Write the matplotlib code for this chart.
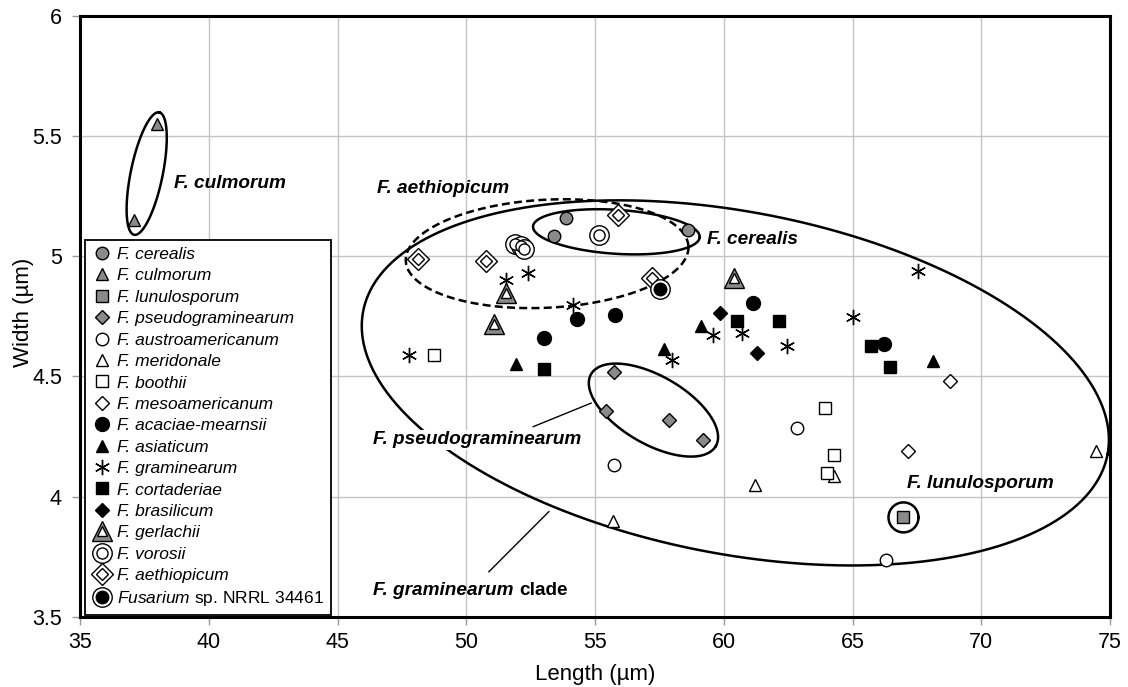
import numpy as np
import matplotlib
matplotlib.use("Agg")
import matplotlib.pyplot as plt
from matplotlib.lines import Line2D

plt.rcParams['font.family'] = ['Liberation Sans', 'DejaVu Sans']
plt.rcParams['mathtext.fontset'] = 'custom'
plt.rcParams['mathtext.it'] = 'Liberation Sans:italic'
plt.rcParams['mathtext.rm'] = 'Liberation Sans'
plt.rcParams['mathtext.bf'] = 'Liberation Sans:bold'

# ---------------- data (length, width in µm) ----------------
cerealis_x = [53.89, 53.40, 58.60]
cerealis_y = [5.16, 5.085, 5.11]
culmorum_x = [38.0, 37.1]
culmorum_y = [5.55, 5.15]
lunulosporum_x = [66.98]
lunulosporum_y = [3.914]
pseudogram_x = [55.73, 55.44, 57.86, 59.18]
pseudogram_y = [4.52, 4.355, 4.32, 4.235]
austroam_x = [55.75, 62.84, 66.31]
austroam_y = [4.133, 4.286, 3.7375]
meridonale_x = [55.70, 61.2, 64.29, 74.46]
meridonale_y = [3.90, 4.05, 4.085, 4.19]
boothii_x = [48.74, 63.92, 64.27, 64.0]
boothii_y = [4.59, 4.37, 4.172, 4.10]
mesoam_x = [68.79, 67.14]
mesoam_y = [4.48, 4.19]
acaciae_x = [54.31, 55.79, 53.01, 61.12, 66.23]
acaciae_y = [4.74, 4.754, 4.66, 4.807, 4.636]
asiaticum_x = [51.95, 57.69, 59.12, 68.12]
asiaticum_y = [4.55, 4.6125, 4.71, 4.564]
graminearum_x = [47.77, 51.56, 52.41, 54.15, 57.99, 59.58, 60.70, 62.45, 65.02, 67.54]
graminearum_y = [4.5875, 4.90, 4.93, 4.796, 4.567, 4.67, 4.68, 4.626, 4.745, 4.94]
cortaderiae_x = [53.01, 60.51, 62.13, 65.71, 66.44]
cortaderiae_y = [4.532, 4.73, 4.73, 4.626, 4.54]
brasilicum_x = [59.84, 61.29]
brasilicum_y = [4.765, 4.596]
gerlachii_x = [51.56, 51.07, 60.39]
gerlachii_y = [4.846, 4.717, 4.91]
vorosii_x = [51.91, 52.11, 52.26, 55.15]
vorosii_y = [5.05, 5.04, 5.03, 5.088]
aethiopicum_x = [48.12, 50.75, 55.88, 57.22]
aethiopicum_y = [4.99, 4.978, 5.172, 4.908]
nrrl_x = [57.54]
nrrl_y = [4.863]

x_ticks = [35, 40, 45, 50, 55, 60, 65, 70, 75]
y_ticks = [3.5, 4, 4.5, 5, 5.5, 6]
y_ticklabels = ['3.5', '4', '4.5', '5', '5.5', '6']

GRAY = '#8a8a8a'

fig = plt.figure(figsize=(11.28, 6.87), dpi=100)
ax = fig.add_axes([80/1128, 1-617/687, 1030/1128, (617-15.5)/687])
ax.set_xlim(35, 75)
ax.set_ylim(3.5, 6)
ax.set_xticks(x_ticks)
ax.set_yticks(y_ticks)
ax.set_yticklabels(y_ticklabels)
ax.grid(True, color='#c4c4c4', lw=1.0, zorder=0)
ax.set_axisbelow(True)
for s in ax.spines.values():
    s.set_linewidth(2.2)
    s.set_color('black')
ax.tick_params(direction='out', length=6, width=1, color='#999999', labelsize=15.5)
ax.tick_params(axis='x', pad=4.5)
ax.tick_params(axis='y', pad=7)
ax.set_xlabel('Length (µm)', fontsize=16, labelpad=8)
ax.set_ylabel('Width (µm)', fontsize=16, labelpad=-1.5)
ax.yaxis.label.set_y(0.507)

kw = dict(ls='none', mec='black', mew=1.0, zorder=5)
h = {}
h['cer'] = ax.plot(cerealis_x, cerealis_y, 'o', ms=9, mfc=GRAY, **kw)[0]
h['cul'] = ax.plot(culmorum_x, culmorum_y, '^', ms=9, mfc=GRAY, **kw)[0]
h['lun'] = ax.plot(lunulosporum_x, lunulosporum_y, 's', ms=8, mfc=GRAY, **kw)[0]
h['pse'] = ax.plot(pseudogram_x, pseudogram_y, 'D', ms=7, mfc=GRAY, **kw)[0]
h['aus'] = ax.plot(austroam_x, austroam_y, 'o', ms=9, mfc='white', **kw)[0]
h['mer'] = ax.plot(meridonale_x, meridonale_y, '^', ms=9, mfc='white', **kw)[0]
h['boo'] = ax.plot(boothii_x, boothii_y, 's', ms=8, mfc='white', **kw)[0]
h['mes'] = ax.plot(mesoam_x, mesoam_y, 'D', ms=7, mfc='white', **kw)[0]
h['aca'] = ax.plot(acaciae_x, acaciae_y, 'o', ms=10, mfc='black', **kw)[0]
h['asi'] = ax.plot(asiaticum_x, asiaticum_y, '^', ms=9, mfc='black', **kw)[0]
h['gra'] = ax.plot(graminearum_x, graminearum_y, marker=(6, 2, 0), ms=11,
                   mew=1.0, ls='none', color='black', zorder=5)[0]
h['cor'] = ax.plot(cortaderiae_x, cortaderiae_y, 's', ms=8.5, mfc='black', **kw)[0]
h['bra'] = ax.plot(brasilicum_x, brasilicum_y, 'D', ms=7.5, mfc='black', **kw)[0]
g1 = ax.plot(gerlachii_x, gerlachii_y, '^', ms=15, mfc=GRAY, **kw)[0]
g2 = ax.plot(gerlachii_x, gerlachii_y, '^', ms=7.5, mfc='white', ls='none',
             mec='black', mew=1.0, zorder=6)[0]
v1 = ax.plot(vorosii_x, vorosii_y, 'o', ms=14, mfc='white', **kw)[0]
v2 = ax.plot(vorosii_x, vorosii_y, 'o', ms=8, mfc='white', ls='none',
             mec='black', mew=1.0, zorder=6)[0]
a1 = ax.plot(aethiopicum_x, aethiopicum_y, 'D', ms=11, mfc='white', **kw)[0]
a2 = ax.plot(aethiopicum_x, aethiopicum_y, 'D', ms=6, mfc='white', ls='none',
             mec='black', mew=1.0, zorder=6)[0]
n1 = ax.plot(nrrl_x, nrrl_y, 'o', ms=14, mfc='white', **kw)[0]
n2 = ax.plot(nrrl_x, nrrl_y, 'o', ms=9, mfc='black', ls='none',
             mec='black', mew=1.0, zorder=6)[0]

# ---------------- group ellipses (center in data, semi-axes in px, angle deg) ----
ellipses = [
    # cx, cy, a_px, b_px, angle, linestyle
    (60.45, 4.473, 379, 171, -10.9, '-'),   # F. graminearum clade
    (53.14, 5.01, 141.5, 54, 3.0, '--'),    # F. aethiopicum
    (55.83, 5.101, 83.5, 22, -3.7, '-'),    # F. cerealis
    (57.27, 4.36, 72, 34, -30.0, '-'),      # F. pseudograminearum
    (37.59, 5.343, 62.5, 16, 78.4, '-'),    # F. culmorum
    (66.98, 3.914, 15, 15, 0.0, '-'),       # F. lunulosporum
]

def draw_ellipse(cx, cy, a, b, ang, ls):
    c = ax.transData.transform((cx, cy))
    t = np.linspace(0, 2*np.pi, 600)
    th = np.radians(ang)
    dx = a*np.cos(t)*np.cos(th) - b*np.sin(t)*np.sin(th)
    dy = a*np.cos(t)*np.sin(th) + b*np.sin(t)*np.cos(th)
    pts = ax.transData.inverted().transform(np.column_stack([c[0]+dx, c[1]+dy]))
    line, = ax.plot(pts[:, 0], pts[:, 1], color='black', lw=1.8, zorder=4)
    if ls == '--':
        line.set_dashes((3.2, 1.7))

for e in ellipses:
    draw_ellipse(*e)

# leader lines
ax.plot([52.60, 54.85], [4.291, 4.389], color='black', lw=1.0, zorder=4)
ax.plot([53.21, 50.88], [3.938, 3.688], color='black', lw=1.0, zorder=4)

# group labels
lab = dict(fontsize=13.7, fontweight='bold', fontstyle='italic', va='center', ha='left')
box = dict(facecolor='white', edgecolor='none', pad=1.0)
ax.text(38.65, 5.303, 'F. culmorum', **lab)
ax.text(46.52, 5.28, 'F. aethiopicum', **lab)
ax.text(59.35, 5.068, 'F. cerealis', **lab)
ax.text(46.39, 4.236, 'F. pseudograminearum', bbox=box, zorder=7, **lab)
ax.text(67.11, 4.053, 'F. lunulosporum', **lab)
t1 = ax.text(46.39, 3.612, 'F. graminearum', **lab)
fig.canvas.draw()
r = fig.canvas.get_renderer()
bb = t1.get_window_extent(renderer=r)
x_end = ax.transData.inverted().transform((bb.x1 + 5, 0))[0]
ax.text(x_end, 3.612, 'clade', fontsize=13.7, fontweight='bold', va='center', ha='left')

# legend
labels = ['F. cerealis', 'F. culmorum', 'F. lunulosporum', 'F. pseudograminearum',
          'F. austroamericanum', 'F. meridonale', 'F. boothii', 'F. mesoamericanum',
          'F. acaciae-mearnsii', 'F. asiaticum', 'F. graminearum', 'F. cortaderiae',
          'F. brasilicum', 'F. gerlachii', 'F. vorosii', 'F. aethiopicum',
          r'$\mathit{Fusarium}$ sp. NRRL 34461']
handles = [h['cer'], h['cul'], h['lun'], h['pse'], h['aus'], h['mer'], h['boo'],
           h['mes'], h['aca'], h['asi'], h['gra'], h['cor'], h['bra'],
           (g1, g2), (v1, v2), (a1, a2), (n1, n2)]
leg = fig.legend(handles, labels, loc='upper left',
                 bbox_to_anchor=(85/1128, 1-240/687),
                 prop={'size': 12.5, 'style': 'italic'},
                 frameon=True, fancybox=False, framealpha=1, edgecolor='black',
                 borderpad=0.4, labelspacing=0.36, handlelength=1.2,
                 handletextpad=0.25, borderaxespad=0)
leg.get_frame().set_linewidth(1.3)
leg.get_texts()[-1].set_fontstyle('normal')

fig.savefig('out.png', dpi=100)
